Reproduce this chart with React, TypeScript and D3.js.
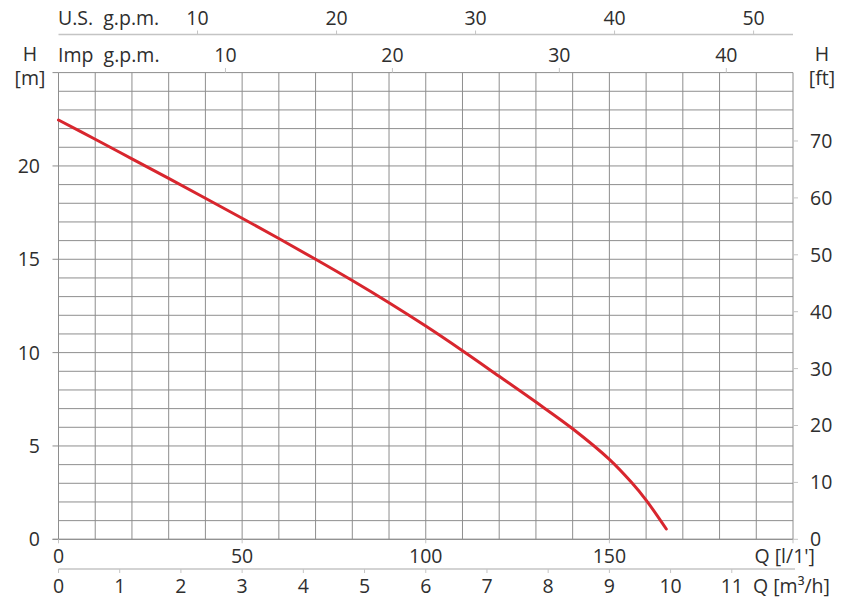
import React from "react";
import * as d3 from "d3";

// Data: flow Q [l/min] vs head H [m]
const flowLpm = [0, 10, 20, 30, 40, 50, 60, 70, 80, 90, 100, 110, 120, 130, 140, 150, 156, 160, 165.5];
const headM = [22.46, 21.43, 20.38, 19.33, 18.27, 17.2, 16.11, 15.0, 13.86, 12.67, 11.42, 10.1, 8.73, 7.35, 5.92, 4.28, 3.05, 2.1, 0.55];

const headTicksM = [0, 5, 10, 15, 20];
const headTicksFt = [0, 10, 20, 30, 40, 50, 60, 70];
const lpmTicks = [0, 50, 100, 150];
const m3hTicks = [0, 1, 2, 3, 4, 5, 6, 7, 8, 9, 10, 11];
const usGpmTicks = [10, 20, 30, 40, 50];
const impGpmTicks = [10, 20, 30, 40];

const W = 848;
const H = 605;
const X0 = 58.5;
const X1 = 793;
const Y0 = 539.3;
const Y1 = 72.6;
const Q_MAX = 200;
const H_MAX = 25;

const FONT = "'Open Sans', 'Noto Sans', sans-serif";
const TXT = "#2e2e2e";
const GRID = "#8e8e8e";
const AX = "#c4c4c4";

export default function App() {
  const x = d3.scaleLinear().domain([0, Q_MAX]).range([X0, X1]);
  const y = d3.scaleLinear().domain([0, H_MAX]).range([Y0, Y1]);
  const xUS = d3.scaleLinear().domain([0, Q_MAX / 3.78541]).range([X0, X1]);
  const xImp = d3.scaleLinear().domain([0, Q_MAX / 4.54609]).range([X0, X1]);
  const xM3h = d3.scaleLinear().domain([0, (Q_MAX * 60) / 1000]).range([X0, X1]);
  const yFt = d3.scaleLinear().domain([0, H_MAX * 3.28084]).range([Y0, Y1]);

  const vGrid = d3.range(0, Q_MAX + 0.001, 10);
  const hGrid = d3.range(0, H_MAX + 0.001, 1);

  const pts = flowLpm.map((q, i) => [q, headM[i]] as [number, number]);
  const line = d3
    .line<[number, number]>()
    .x((d) => x(d[0]))
    .y((d) => y(d[1]))
    .curve(d3.curveCatmullRom.alpha(0.5));

  const fs = 19.5;

  return (
    <svg
      width={W}
      height={H}
      style={{ position: "absolute", left: 0, top: 0, background: "#fff" }}
      fontFamily={FONT}
    >
      {/* grid */}
      <g stroke={GRID} strokeWidth={1}>
        {hGrid.map((h) => (
          <line key={"h" + h} x1={X0} x2={X1} y1={y(h)} y2={y(h)} />
        ))}
        {vGrid.map((q) => (
          <line key={"v" + q} x1={x(q)} x2={x(q)} y1={Y0} y2={Y1} />
        ))}
      </g>

      {/* left axis ticks and labels (m) */}
      <g>
        {[0, 5, 10, 15, 20, 25].map((h) => (
          <line key={"lt" + h} x1={X0 - 6} x2={X0} y1={y(h)} y2={y(h)} stroke={GRID} />
        ))}
        {headTicksM.map((h) => (
          <text key={"ll" + h} x={40} y={y(h) + 7} textAnchor="end" fontSize={fs} fill={TXT}>
            {h}
          </text>
        ))}
        <text x={30} y={61} textAnchor="middle" fontSize={fs} fill={TXT}>H</text>
        <text x={30} y={85} textAnchor="middle" fontSize={fs} fill={TXT}>[m]</text>
      </g>

      {/* right axis (ft) */}
      <g>
        {headTicksFt.map((f) => (
          <line key={"rt" + f} x1={X1} x2={X1 + 5} y1={yFt(f)} y2={yFt(f)} stroke={AX} />
        ))}
        {headTicksFt.map((f) => (
          <text key={"rl" + f} x={810} y={yFt(f) + 7} textAnchor="start" fontSize={fs} fill={TXT}>
            {f}
          </text>
        ))}
        <text x={822} y={61} textAnchor="middle" fontSize={fs} fill={TXT}>H</text>
        <text x={822} y={85} textAnchor="middle" fontSize={fs} fill={TXT}>[ft]</text>
      </g>

      {/* top: U.S. g.p.m. */}
      <g>
        <line x1={X0} x2={X1} y1={34.5} y2={34.5} stroke={AX} strokeWidth={1.5} />
        {usGpmTicks.map((g) => (
          <line key={"ut" + g} x1={xUS(g)} x2={xUS(g)} y1={30.5} y2={34.5} stroke={AX} />
        ))}
        {usGpmTicks.map((g) => (
          <text key={"ul" + g} x={xUS(g)} y={25} textAnchor="middle" fontSize={fs} fill={TXT}>
            {g}
          </text>
        ))}
        <text x={58} y={25} fontSize={fs} fill={TXT} style={{ whiteSpace: "pre" }}>
          {"U.S.  g.p.m."}
        </text>
      </g>

      {/* top: Imp g.p.m. */}
      <g>
        {impGpmTicks.map((g) => (
          <line key={"it" + g} x1={xImp(g)} x2={xImp(g)} y1={68} y2={72.6} stroke={AX} />
        ))}
        {impGpmTicks.map((g) => (
          <text key={"il" + g} x={xImp(g)} y={62} textAnchor="middle" fontSize={fs} fill={TXT}>
            {g}
          </text>
        ))}
        <text x={58} y={62} fontSize={fs} fill={TXT} style={{ whiteSpace: "pre" }}>
          {"Imp  g.p.m."}
        </text>
      </g>

      {/* bottom: Q [l/1'] */}
      <g>
        <line x1={X0 - 6} x2={X1} y1={Y0} y2={Y0} stroke={GRID} />
        {lpmTicks.concat([200]).map((q) => (
          <line key={"bt" + q} x1={x(q)} x2={x(q)} y1={Y0} y2={Y0 + 4} stroke={AX} />
        ))}
        {lpmTicks.map((q) => (
          <text key={"bl" + q} x={x(q)} y={563} textAnchor="middle" fontSize={fs} fill={TXT}>
            {q}
          </text>
        ))}
        <text x={815} y={563} textAnchor="end" fontSize={fs} fill={TXT}>
          Q [l/1']
        </text>
      </g>

      {/* bottom: Q [m3/h] */}
      <g>
        <line x1={X0} x2={X1 + 2} y1={569} y2={569} stroke={AX} strokeWidth={1.5} />
        {m3hTicks.map((m) => (
          <line key={"mt" + m} x1={xM3h(m)} x2={xM3h(m)} y1={569} y2={573} stroke={AX} />
        ))}
        {m3hTicks.map((m) => (
          <text key={"ml" + m} x={xM3h(m)} y={593} textAnchor="middle" fontSize={fs} fill={TXT}>
            {m}
          </text>
        ))}
        <text x={753} y={593} textAnchor="start" fontSize={fs} fill={TXT}>
          Q [m³/h]
        </text>
      </g>

      {/* curve */}
      <path d={line(pts) || ""} fill="none" stroke="#d8262e" strokeWidth={3} strokeLinecap="round" />
    </svg>
  );
}
